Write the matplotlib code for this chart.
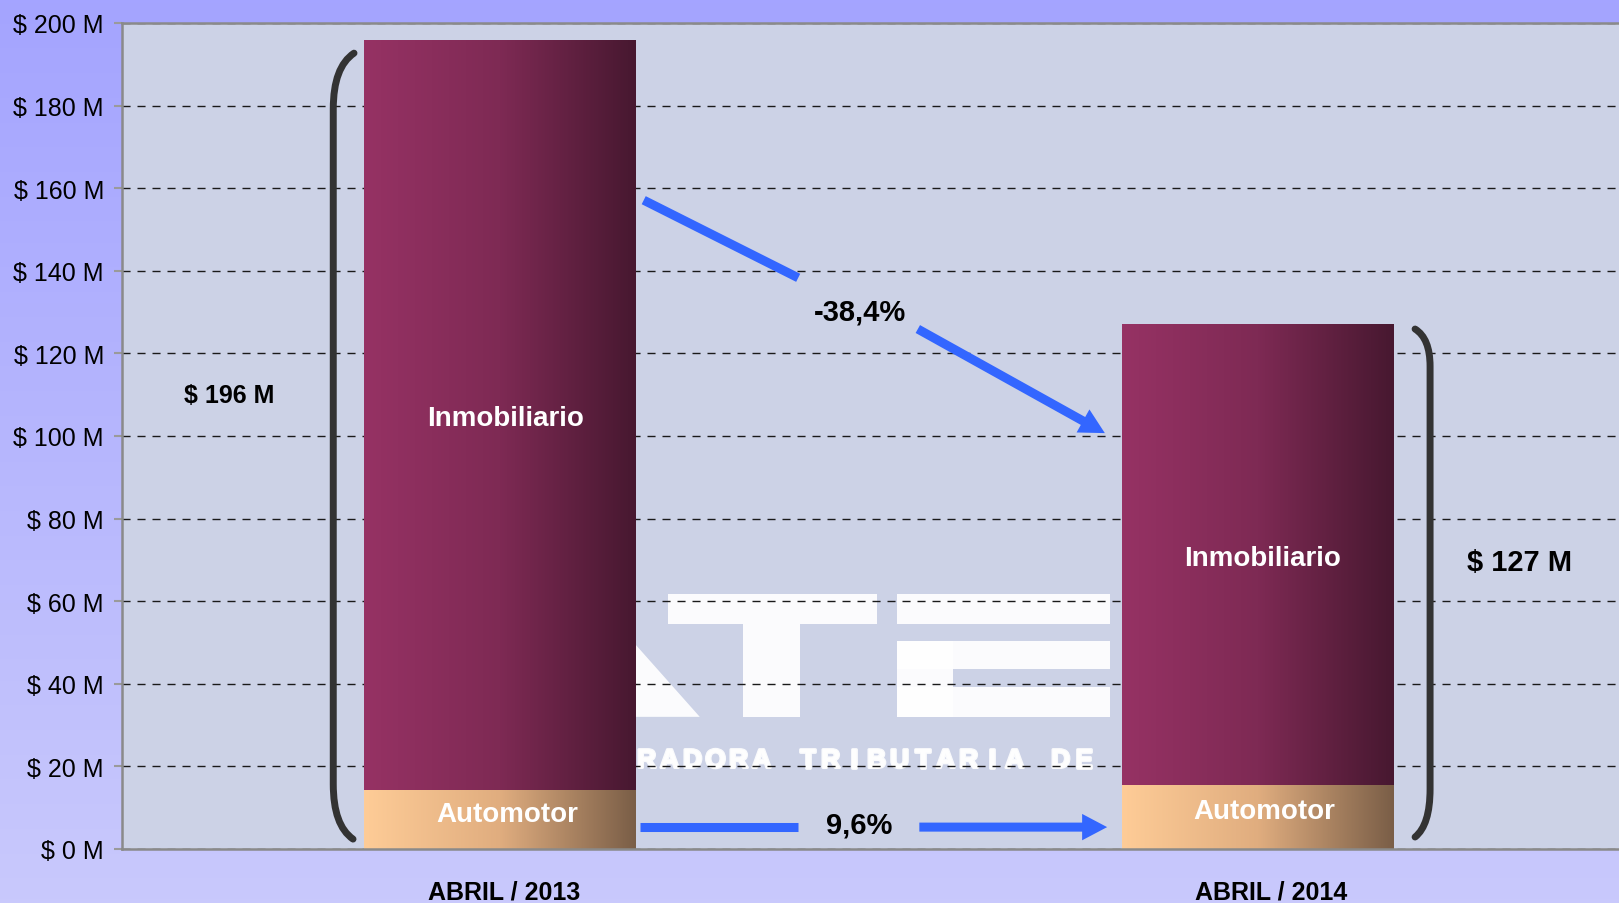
import numpy as np
import matplotlib
matplotlib.use("Agg")
import matplotlib.pyplot as plt
import matplotlib.patheffects as pe
from matplotlib.path import Path
from matplotlib.patches import PathPatch, Polygon, Rectangle, FancyArrowPatch, ArrowStyle
from matplotlib.colors import LinearSegmentedColormap

plt.rcParams['font.family'] = ['Liberation Sans', 'DejaVu Sans']

# data (millions of $)
periods = ['ABRIL / 2013', 'ABRIL / 2014']
automotor = [14.2, 15.5]
inmobiliario = [181.8, 111.5]
total_labels = ['$ 196 M', '$ 127 M']
var_inmob = '-38,4%'
var_auto = '9,6%'
yticks = list(range(0, 201, 20))
ytick_labels = ['$ %d M' % v for v in yticks]

blue = '#3366ff'
fig = plt.figure(figsize=(16.19, 9.04), dpi=100)

# figure background gradient
bg = fig.add_axes([0, 0, 1, 1], zorder=-10)
bg_cmap = LinearSegmentedColormap.from_list('bg', ['#c9c9fc', '#a4a4ff'])
bg.imshow(np.linspace(0, 1, 256).reshape(-1, 1), aspect='auto', cmap=bg_cmap,
          origin='lower', extent=[0, 1, 0, 1])
bg.axis('off')

ax = fig.add_axes([122 / 1619, 54 / 904, 1 - 122 / 1619, 826 / 904])
ax.set_facecolor('#ccd2e6')

x = np.arange(len(periods))
w = 0.358
auto_bars = ax.bar(x, automotor, w, color='#d9a878', zorder=2)
inmo_bars = ax.bar(x, inmobiliario, w, bottom=automotor, color='#7a2850', zorder=2)

# horizontal gradient fill for each bar
auto_cmap = LinearSegmentedColormap.from_list('auto', ['#fecc97', '#e0ad7f', '#7a5e47'])
inmo_cmap = LinearSegmentedColormap.from_list('inmo', ['#963264', '#7e2a54', '#471830'])
grad = np.linspace(0, 1, 256).reshape(1, -1)
for bars, cm in [(auto_bars, auto_cmap), (inmo_bars, inmo_cmap)]:
    for b in bars:
        im = ax.imshow(grad, cmap=cm, aspect='auto', zorder=2.1,
                       extent=[b.get_x(), b.get_x() + b.get_width(),
                               b.get_y(), b.get_y() + b.get_height()])
        im.set_clip_path(b)

# segment labels
for i in range(len(periods)):
    ax.annotate('Inmobiliario', (x[i], automotor[i] + inmobiliario[i] / 2), xytext=(4, -2),
                textcoords='offset points', ha='center', va='center', color='white',
                fontsize=20, fontweight='bold', zorder=4)
    ax.annotate('Automotor', (x[i], automotor[i] / 2), xytext=(5, 4), textcoords='offset points',
                ha='center', va='center', color='white', fontsize=20, fontweight='bold', zorder=4)

# watermark (ATER logo, mostly hidden behind the bars)
wm = dict(fc='white', ec='none', alpha=0.93, zorder=0.3)
ax.add_patch(Polygon([(-0.15, 32.0), (0.12, 61.7), (0.264, 32.0)], **wm))
ax.add_patch(Rectangle((0.222, 54.5), 0.276, 7.2, **wm))
ax.add_patch(Rectangle((0.321, 32.0), 0.075, 22.5, **wm))
ax.add_patch(Rectangle((0.525, 54.5), 0.281, 7.2, **wm))
ax.add_patch(Rectangle((0.525, 43.6), 0.281, 6.8, **wm))
ax.add_patch(Rectangle((0.525, 32.0), 0.074, 18.4, **wm))
ax.add_patch(Rectangle((0.525, 32.0), 0.281, 7.2, **wm))
wm_sub = 'ADMINISTRADORA TRIBUTARIA DE ENTRE RIOS'
for i, ch in enumerate(wm_sub):
    ax.text(-0.0493 + i * 0.03038, 21.4, ch, ha='center', va='center', color='white',
            fontsize=19, fontweight='bold', alpha=0.9, zorder=0.35,
            path_effects=[pe.withStroke(linewidth=2, foreground='white')])


def bracket(x_tip, x_vert, y_top, y_top_c, y_bot_c, y_bot, x_tip_b):
    h1 = y_top - y_top_c
    h2 = y_bot_c - y_bot
    verts = [(x_tip, y_top), (x_vert, y_top - 0.25 * h1), (x_vert, y_top_c),
             (x_vert, y_bot_c), (x_vert, y_bot + 0.25 * h2), (x_tip_b, y_bot)]
    codes = [Path.MOVETO, Path.CURVE3, Path.CURVE3, Path.LINETO, Path.CURVE3, Path.CURVE3]
    ax.add_patch(PathPatch(Path(verts, codes), fc='none', ec='#333333', lw=5,
                           capstyle='round', zorder=3))


bracket(-0.1926, -0.2200, 192.7, 179.2, 15.7, 2.4, -0.1939)
bracket(1.2087, 1.2285, 125.9, 116.9, 14.5, 2.9, 1.2087)

ax.text(-0.358, 110, total_labels[0], ha='center', va='center', fontsize=18, fontweight='bold')
ax.text(1.347, 69.6, total_labels[1], ha='center', va='center', fontsize=21, fontweight='bold')

# variation arrows
head = ArrowStyle.Simple(head_length=18, head_width=19, tail_width=6.5)
ax.plot([0.190, 0.394], [157.1, 138.3], color=blue, lw=6.5, solid_capstyle='butt', zorder=3)
ax.add_patch(FancyArrowPatch((0.552, 125.9), (0.799, 100.7), arrowstyle=head, mutation_scale=1,
                             color=blue, lw=0, shrinkA=0, shrinkB=0, zorder=3))
ax.plot([0.185, 0.394], [5.3, 5.3], color=blue, lw=6.5, solid_capstyle='butt', zorder=3)
ax.add_patch(FancyArrowPatch((0.554, 5.3), (0.802, 5.3), arrowstyle=head, mutation_scale=1,
                             color=blue, lw=0, shrinkA=0, shrinkB=0, zorder=3))
ax.text(0.476, 130.2, var_inmob, ha='center', va='center', fontsize=21, fontweight='bold', zorder=4)
ax.text(0.475, 6.0, var_auto, ha='center', va='center', fontsize=21, fontweight='bold', zorder=4)

ax.set_xlim(-0.499, 1.478)
ax.set_ylim(0, 200)
ax.set_yticks(yticks)
ax.set_yticklabels(ytick_labels)
# category labels sit a little right of the bar centres in the original
ax.set_xticks(x + np.array([0.005, 0.018]))
ax.set_xticklabels(periods, fontweight='bold')
ax.yaxis.grid(True, color='#1a1a1a', lw=1.0, linestyle=(0, (5.8, 5)))
ax.set_axisbelow(True)
ax.tick_params(axis='y', length=6, width=1.5, color='#9a9a9a', pad=7, labelsize=18)
ax.tick_params(axis='x', length=0, pad=22, labelsize=18)
for side in ['top', 'left', 'bottom']:
    ax.spines[side].set_color('#8a8a8a')
    ax.spines[side].set_linewidth(1.8)
ax.spines['right'].set_visible(False)

fig.savefig('out.png', dpi=100)
